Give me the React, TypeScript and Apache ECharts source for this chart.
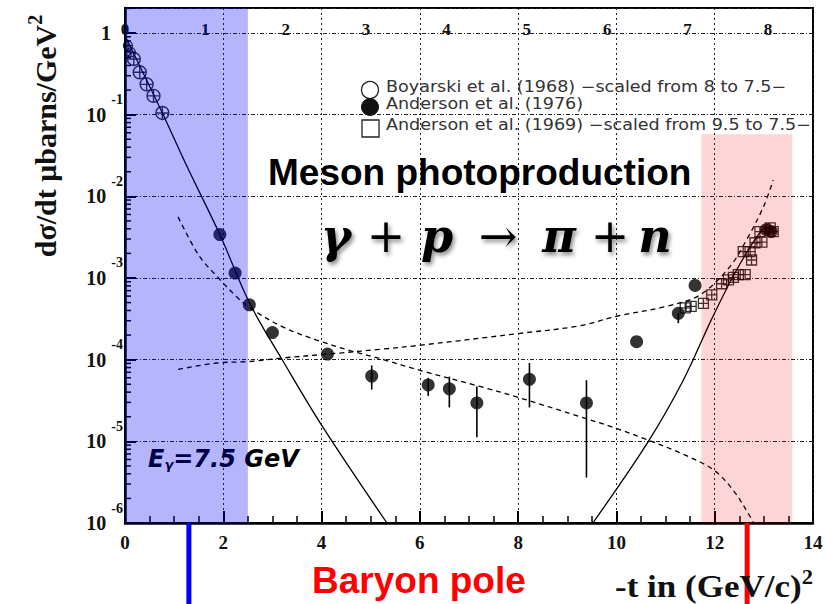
import React, { useEffect, useRef } from 'react';
import * as echarts from 'echarts';

// ---- data (t in (GeV/c)^2, dσ/dt in μb/GeV^2) ----
const tBoyarski = [0.06, 0.12, 0.18, 0.3, 0.44, 0.58, 0.76];
const sBoyarski = [0.7, 0.58, 0.48, 0.33, 0.235, 0.17, 0.105];

const tAnd76 = [1.93, 2.24, 2.53, 3.0, 4.12, 5.02, 6.17, 6.6, 7.16, 8.23, 9.39, 10.41, 11.26, 11.6, 13.05, 13.15];
const sAnd76 = [3.4e-3, 1.15e-3, 4.7e-4, 2.15e-4, 1.17e-4, 6.3e-5, 4.9e-5, 4.4e-5, 2.95e-5, 5.75e-5, 2.95e-5, 1.66e-4, 3.7e-4, 8.1e-4, 3.9e-3, 3.7e-3];

const tErr = [5.02, 6.17, 6.6, 7.16, 8.23, 9.39, 11.26];
const errLo = [4.3e-5, 3.6e-5, 2.6e-5, 1.12e-5, 2.6e-5, 3.6e-6, 2.8e-4];
const errHi = [8.5e-5, 6.0e-5, 6.2e-5, 4.7e-5, 9.1e-5, 5.6e-5, 3.7e-4];

const tAnd69 = [11.4, 11.52, 11.77, 11.94, 12.14, 12.28, 12.38, 12.48, 12.62, 12.58, 12.75, 12.72, 12.82, 12.96, 12.92, 13.13, 13.19];
const sAnd69 = [4.3e-4, 4.5e-4, 4.9e-4, 6.2e-4, 8.5e-4, 9.5e-4, 1.02e-3, 1.1e-3, 1.1e-3, 2.1e-3, 1.66e-3, 2.1e-3, 2.7e-3, 2.75e-3, 3.7e-3, 4.1e-3, 3.7e-3];

// model curves
const tSolidA = [0, 0.76, 1.25, 1.93, 2.53, 3.22, 4.0, 5.33];
const sSolidA = [0.933, 0.105, 0.024, 3.4e-3, 5.0e-4, 9.5e-5, 1.58e-5, 1.0e-6];

const tSolidB = [9.52, 10.65, 11.36, 11.94, 12.4, 12.85, 13.1];
const sSolidB = [1.0e-6, 1.0e-5, 5.6e-5, 3.16e-4, 1.12e-3, 3.16e-3, 4.7e-3];

const tDashC = [1.08, 1.5, 1.87, 2.27, 2.54, 3.22, 3.9, 4.58, 5.26, 6.0, 7.22, 7.97, 9.26, 9.94, 10.62, 11.3, 11.97, 12.38, 12.72, 12.79];
const sDashC = [5.6e-3, 1.9e-3, 1.05e-3, 5.9e-4, 4.3e-4, 2.5e-4, 1.74e-4, 1.29e-4, 1.0e-4, 7.4e-5, 4.7e-5, 3.5e-5, 2.0e-5, 1.48e-5, 1.05e-5, 7.2e-6, 4.5e-6, 2.5e-6, 1.2e-6, 1.0e-6];

const tDashD = [1.08, 1.87, 2.54, 3.22, 4.12, 5.26, 6.0, 8.04, 9.26, 10.0, 11.02, 11.7, 12.31, 12.65, 12.99, 13.19];
const sDashD = [7.6e-5, 9.1e-5, 9.5e-5, 1.05e-4, 1.17e-4, 1.35e-4, 1.5e-4, 2.1e-4, 2.6e-4, 3.4e-4, 4.5e-4, 6.2e-4, 1.38e-3, 2.95e-3, 7.4e-3, 1.58e-2];

// shaded regions (t ranges) and pole markers
const blueBand = [0, 2.5];
const pinkBand = [11.73, 13.58];
const pinkTop = 0.0575;
const poleBlueT = 1.3;
const poleRedT = 12.66;

const xTicks = [0, 14, 2];
const yDecades = [-6, 0.306];
const topAxisMax = 8.56;

const legendLabels = [
  'Boyarski et al. (1968) \u2212scaled from 8 to 7.5\u2212',
  'Anderson et al. (1976)',
  'Anderson et al. (1969) \u2212scaled from 9.5 to 7.5\u2212',
];

const SERIF = '"Liberation Serif", "Times New Roman", serif';
const SANS = '"Liberation Sans", Arial, sans-serif';
const DSANS = '"DejaVu Sans", sans-serif';
const DSERIF = '"DejaVu Serif", serif';

const lg = (v: number) => Math.log10(v);
const pts = (xs: number[], ys: number[]) => xs.map((x, i) => [x, lg(ys[i])]);

const circCross = 'path://M0,-10A10,10 0 1,1 0,10A10,10 0 1,1 0,-10Z M-10,0L10,0 M0,-10L0,10';
const sqCross = 'path://M-10,-10L10,-10L10,10L-10,10Z M-10,0L10,0 M0,-10L0,10';

function buildMinorTicks() {
  const out: number[][] = [];
  for (let k = -6; k <= 0; k++) {
    for (let m = 2; m <= 9; m++) {
      const v = Math.log10(m) + k;
      if (v < yDecades[1]) out.push([0, v]);
    }
  }
  return out;
}

export default function App() {
  const ref = useRef<HTMLDivElement>(null);
  useEffect(() => {
    if (!ref.current) return;
    const chart = echarts.init(ref.current, undefined, { renderer: 'svg' });
    const curve = (name: string, xs: number[], ys: number[], dashed: boolean) => ({
      name, type: 'line', data: pts(xs, ys), symbol: 'none', smooth: 0.35,
      lineStyle: dashed ? { color: '#000', width: 1.3, type: [5, 4] } : { color: '#000', width: 1.3 }, z: 2,
    });
    const option: any = {
      animation: false,
      backgroundColor: '#ffffff',
      grid: { left: 125, right: 13, top: 8, bottom: 81, show: true, borderColor: '#000', borderWidth: 2, backgroundColor: 'transparent' },
      xAxis: [
        {
          type: 'value', min: xTicks[0], max: xTicks[1], interval: xTicks[2], position: 'bottom',
          axisLine: { show: true, onZero: false, lineStyle: { color: '#000', width: 2.5 } },
          axisTick: { show: true, inside: true, length: 12, lineStyle: { color: '#000', width: 2 } },
          minorTick: { show: true, splitNumber: 4, length: 7, lineStyle: { color: '#000', width: 1.5 } },
          axisLabel: { margin: 10, fontFamily: SERIF, fontWeight: 'bold', fontSize: 19, color: '#111' },
          splitLine: { show: true, lineStyle: { color: '#222', type: [2, 3], width: 1 } },
        },
        {
          type: 'value', min: 0, max: topAxisMax, interval: 1, position: 'top',
          axisLine: { show: false }, axisTick: { show: false }, splitLine: { show: false },
          axisLabel: {
            inside: true, margin: 13, fontFamily: SERIF, fontWeight: 'bold', fontSize: 17, color: '#111',
            formatter: (v: number) => (Math.abs(v - Math.round(v)) < 1e-6 ? String(Math.round(v)) : ''),
          },
        },
      ],
      yAxis: {
        type: 'value', min: yDecades[0], max: yDecades[1], interval: 1,
        axisLine: { show: true, onZero: false, lineStyle: { color: '#000', width: 2.5 } },
        axisTick: { show: true, inside: true, length: 11, lineStyle: { color: '#000', width: 2 } },
        splitLine: { show: true, lineStyle: { color: '#222', type: [4, 2, 1, 2], width: 1 } },
        axisLabel: {
          margin: 2,
          formatter: (v: number) => {
            if (Math.abs(v - Math.round(v)) > 1e-6) return '';
            const r = Math.round(v);
            return r === 0 ? '{one|1}' : `{b|10}{s|${r}}`;
          },
          rich: {
            b: { fontFamily: SERIF, fontWeight: 'bold', fontSize: 20, color: '#111', lineHeight: 44 },
            s: { fontFamily: SERIF, fontWeight: 'bold', fontSize: 14, color: '#111', lineHeight: 14, verticalAlign: 'top', padding: [0, 0, 0, 5] },
            one: { fontFamily: SERIF, fontWeight: 'bold', fontSize: 20, color: '#111', padding: [0, 12, 0, 0] },
          },
        },
      },
      series: [
        curve('model A', tSolidA, sSolidA, false),
        curve('model B', tSolidB, sSolidB, false),
        curve('model C', tDashC, sDashC, true),
        curve('model D', tDashD, sDashD, true),
        {
          name: 'errors', type: 'custom', z: 3,
          data: tErr.map((t, i) => [t, lg(errLo[i]), lg(errHi[i])]),
          encode: { x: 0, y: [1, 2] },
          renderItem: (params: any, api: any) => {
            const x = api.value(0);
            const a = api.coord([x, api.value(1)]);
            const b = api.coord([x, api.value(2)]);
            return { type: 'line', shape: { x1: a[0], y1: a[1], x2: b[0], y2: b[1] }, style: { stroke: '#000', lineWidth: 1.6 } };
          },
        },
        { name: legendLabels[0], type: 'scatter', data: pts(tBoyarski, sBoyarski), symbol: circCross, symbolSize: (v: number[]) => (v[0] < 0.15 ? 9 : 13), itemStyle: { color: 'rgba(0,0,0,0)', borderColor: '#000', borderWidth: 1.4 }, z: 4 },
        { name: legendLabels[1], type: 'scatter', data: pts(tAnd76, sAnd76), symbol: 'circle', symbolSize: 13, itemStyle: { color: '#000' }, z: 4 },
        { name: legendLabels[2], type: 'scatter', data: pts(tAnd69, sAnd69), symbol: sqCross, symbolSize: 10, itemStyle: { color: 'rgba(0,0,0,0)', borderColor: '#000', borderWidth: 1.3 }, z: 4 },
        {
          name: 'minor ticks', type: 'custom', z: 3, silent: true,
          data: buildMinorTicks(),
          renderItem: (params: any, api: any) => {
            const p = api.coord([api.value(0), api.value(1)]);
            return { type: 'line', shape: { x1: p[0], y1: p[1], x2: p[0] + 6, y2: p[1] }, style: { stroke: '#000', lineWidth: 1.5 } };
          },
        },
        {
          name: 'bands', type: 'line', data: [], z: 10, silent: true,
          markArea: {
            silent: true, z: 10,
            data: [
              [{ xAxis: blueBand[0], yAxis: yDecades[0], itemStyle: { color: 'rgba(0,0,240,0.29)' } }, { xAxis: blueBand[1], yAxis: yDecades[1] }],
              [{ xAxis: pinkBand[0], yAxis: yDecades[0], itemStyle: { color: 'rgba(235,0,0,0.16)' } }, { xAxis: pinkBand[1], yAxis: lg(pinkTop) }],
            ],
          },
        },
      ],
    };
    chart.setOption(option);

    const pb = chart.convertToPixel({ gridIndex: 0 }, [poleBlueT, yDecades[0]]) as number[];
    const pr = chart.convertToPixel({ gridIndex: 0 }, [poleRedT, yDecades[0]]) as number[];

    const graphic: any[] = [
      { type: 'line', z: 5, shape: { x1: pb[0], y1: pb[1], x2: pb[0], y2: 604 }, style: { stroke: '#0000ff', lineWidth: 5 } },
      { type: 'line', z: 5, shape: { x1: pr[0], y1: pr[1], x2: pr[0], y2: 604 }, style: { stroke: '#ff0000', lineWidth: 5 } },
      { type: 'text', z: 5, x: 312, y: 580, style: { text: 'Baryon pole', fill: '#ff0000', fontFamily: SANS, fontWeight: 'bold', fontSize: 37, align: 'left', verticalAlign: 'middle' } },
      { type: 'text', z: 5, x: 268, y: 172, style: { text: 'Meson photoproduction', fill: '#000', fontFamily: SANS, fontWeight: 'bold', fontSize: 37, align: 'left', verticalAlign: 'middle' } },
      // legend
      { type: 'circle', z: 5, shape: { cx: 370, cy: 90, r: 8.5 }, style: { fill: '#fff', stroke: '#222', lineWidth: 1.3 } },
      { type: 'circle', z: 5, shape: { cx: 370, cy: 107, r: 8.5 }, style: { fill: '#111', stroke: '#111', lineWidth: 1 } },
      { type: 'rect', z: 5, shape: { x: 362, y: 120, width: 17, height: 17 }, style: { fill: '#fff', stroke: '#222', lineWidth: 1.3 } },
      ...legendLabels.map((t, i) => ({ type: 'text', z: 5, x: 386, y: [87, 104, 125][i], scaleX: 1.17, style: { text: t, fill: '#333', fontFamily: DSANS, fontSize: 15, align: 'left', verticalAlign: 'middle' } })),
      // E_gamma label (under the blue band)
      { type: 'text', z: 3, x: 148, y: 459, style: { text: 'E{g|γ}=7.5 GeV', fill: '#000', fontFamily: DSANS, fontWeight: 'bold', fontStyle: 'italic', fontSize: 24, align: 'left', verticalAlign: 'middle', rich: { g: { fontFamily: DSANS, fontWeight: 'bold', fontStyle: 'italic', fontSize: 13, fill: '#000', verticalAlign: 'bottom', lineHeight: 12 } } } },
      // axis titles
      { type: 'text', z: 5, x: 45, y: 136, rotation: Math.PI / 2, style: { text: '{a|dσ/dt μbarns/GeV}{s|2}', align: 'center', verticalAlign: 'middle', rich: { a: { fontFamily: SERIF, fontWeight: 'bold', fontSize: 30, fill: '#111', lineHeight: 40 }, s: { fontFamily: SERIF, fontWeight: 'bold', fontSize: 20, fill: '#111', verticalAlign: 'top', lineHeight: 20 } } } },
      { type: 'text', z: 5, x: 813, y: 587, scaleX: 1.13, style: { text: '{a|-t in (GeV/c)}{s|2}', align: 'right', verticalAlign: 'middle', rich: { a: { fontFamily: SERIF, fontWeight: 'bold', fontSize: 31, fill: '#111', lineHeight: 40 }, s: { fontFamily: SERIF, fontWeight: 'bold', fontSize: 20, fill: '#111', verticalAlign: 'top', lineHeight: 20 } } } },
    ];
    // reaction formula, each symbol placed at its measured centre
    const formula: [string, number, boolean][] = [['γ', 336, true], ['+', 386, false], ['p', 437, true], ['→', 498, false], ['π', 559, true], ['+', 610, false], ['n', 655, true]];
    formula.forEach(([s, x, it]) => {
      graphic.push({ type: 'text', z: 5, x, y: 236, style: { text: s, fill: '#000', fontFamily: DSERIF, fontWeight: it ? 'bold' : 'normal', fontStyle: it ? 'italic' : 'normal', fontSize: 46, align: 'center', verticalAlign: 'middle', textShadowColor: 'rgba(0,0,0,0.45)', textShadowBlur: 4, textShadowOffsetX: 2, textShadowOffsetY: 3 } });
    });
    chart.setOption({ graphic });

    return () => chart.dispose();
  }, []);
  return <div ref={ref} style={{ position: 'absolute', left: 0, top: 0, width: 826, height: 604 }} />;
}
